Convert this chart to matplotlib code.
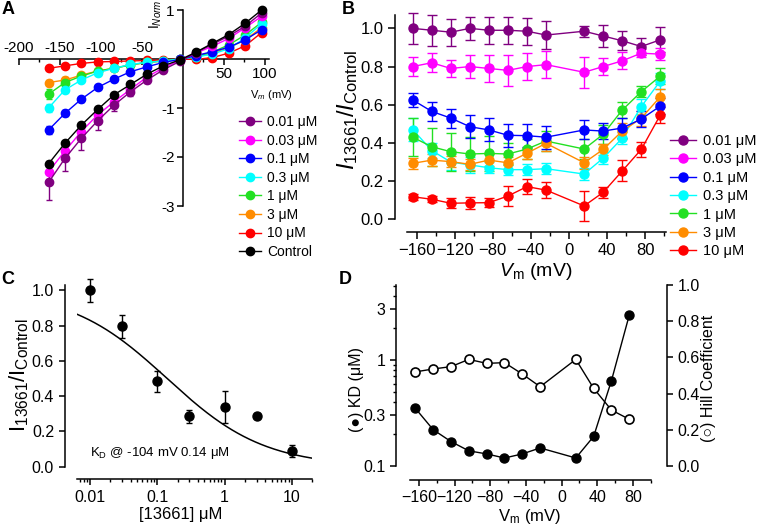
import numpy as np
import matplotlib
matplotlib.use("Agg")
import matplotlib.pyplot as plt
from matplotlib.lines import Line2D
from matplotlib.ticker import FixedLocator, NullFormatter, LogLocator, MultipleLocator, FormatStrFormatter

plt.rcParams['font.family'] = ['Liberation Sans', 'DejaVu Sans']
plt.rcParams['mathtext.fontset'] = 'custom'
plt.rcParams['mathtext.rm'] = 'Liberation Sans'
plt.rcParams['mathtext.it'] = 'Liberation Sans:italic'
plt.rcParams['mathtext.bf'] = 'Liberation Sans:bold'
plt.rcParams['axes.linewidth'] = 1.1
plt.rcParams['xtick.major.width'] = 1.1
plt.rcParams['ytick.major.width'] = 1.1
plt.rcParams['xtick.minor.width'] = 1.0
plt.rcParams['ytick.minor.width'] = 1.0

# ---------------- data ----------------
conc_labels = ["0.01 \u03bcM", "0.03 \u03bcM", "0.1 \u03bcM", "0.3 \u03bcM", "1 \u03bcM", "3 \u03bcM", "10 \u03bcM"]
colors = ["#800080", "#ff00ff", "#0000ff", "#00ffff", "#22e022", "#ff8c00", "#ff0000"]

# Panel A: normalized I-V
vA = [-164, -144, -124, -104, -84, -64, -44, -24, -4, 16, 36, 56, 76, 96]
iA_001 = [-2.52, -2.03, -1.62, -1.26, -0.94, -0.67, -0.43, -0.22, -0.05, 0.13, 0.30, 0.47, 0.67, 0.94]
iA_003 = [-2.30, -1.88, -1.48, -1.14, -0.87, -0.62, -0.37, -0.18, -0.03, 0.12, 0.26, 0.42, 0.64, 0.87]
iA_01 = [-1.45, -1.11, -0.82, -0.58, -0.41, -0.26, -0.16, -0.07, -0.01, 0.07, 0.15, 0.24, 0.39, 0.60]
iA_03 = [-1.00, -0.63, -0.43, -0.28, -0.19, -0.11, -0.07, -0.04, 0.00, 0.04, 0.10, 0.21, 0.43, 0.72]
iA_1 = [-0.72, -0.48, -0.35, -0.245, -0.19, -0.12, -0.07, -0.04, 0.00, 0.05, 0.14, 0.29, 0.49, 0.75]
iA_3 = [-0.48, -0.43, -0.33, -0.245, -0.19, -0.12, -0.07, -0.04, 0.00, 0.04, 0.12, 0.23, 0.39, 0.64]
iA_10 = [-0.19, -0.14, -0.09, -0.06, -0.05, -0.04, -0.03, -0.02, 0.00, -0.01, 0.03, 0.12, 0.27, 0.54]
iA_ctl = [-2.14, -1.72, -1.35, -1.03, -0.73, -0.52, -0.31, -0.14, -0.02, 0.14, 0.32, 0.50, 0.73, 1.00]
eA_001 = [0.36, 0.26, 0.24, 0.18, 0.13, 0.08, 0.05, 0.03, 0.01, 0.02, 0.03, 0.04, 0.05, 0.06]
eA_003 = [0.15, 0.15, 0.12, 0.10, 0.08, 0.05, 0.04, 0.02, 0.01, 0.02, 0.02, 0.03, 0.04, 0.05]
eA_01 = [0.08, 0.06, 0.05, 0.04, 0.03, 0.02, 0.02, 0.01, 0.01, 0.01, 0.02, 0.02, 0.03, 0.04]
eA_03 = [0.08, 0.05, 0.04, 0.03, 0.02, 0.02, 0.01, 0.01, 0.01, 0.01, 0.01, 0.02, 0.03, 0.04]
eA_1 = [0.10, 0.06, 0.04, 0.03, 0.02, 0.02, 0.01, 0.01, 0.01, 0.01, 0.01, 0.02, 0.03, 0.04]
eA_3 = [0.05, 0.06, 0.04, 0.03, 0.02, 0.02, 0.01, 0.01, 0.01, 0.01, 0.01, 0.02, 0.03, 0.04]
eA_10 = [0.04, 0.03, 0.02, 0.02, 0.01, 0.01, 0.01, 0.01, 0.01, 0.01, 0.01, 0.02, 0.02, 0.03]
eA_ctl = [0.05, 0.05, 0.04, 0.03, 0.02, 0.02, 0.01, 0.01, 0.01, 0.01, 0.02, 0.02, 0.03, 0.03]

# Panel B: I13661 / Icontrol
vB = [-164, -144, -124, -104, -84, -64, -44, -24, 16, 36, 56, 76, 96]
rB_001 = [1.00, 0.99, 0.98, 1.00, 0.99, 0.99, 0.985, 0.965, 0.985, 0.96, 0.935, 0.905, 0.94]
rB_003 = [0.80, 0.82, 0.79, 0.80, 0.79, 0.78, 0.80, 0.81, 0.77, 0.80, 0.83, 0.87, 0.865]
rB_01 = [0.625, 0.565, 0.53, 0.485, 0.468, 0.44, 0.438, 0.43, 0.468, 0.462, 0.478, 0.525, 0.593]
rB_03 = [0.47, 0.36, 0.30, 0.285, 0.27, 0.26, 0.26, 0.265, 0.237, 0.32, 0.425, 0.59, 0.724]
rB_1 = [0.43, 0.38, 0.354, 0.342, 0.345, 0.342, 0.368, 0.41, 0.368, 0.445, 0.572, 0.668, 0.75]
rB_3 = [0.293, 0.31, 0.302, 0.288, 0.31, 0.296, 0.346, 0.398, 0.296, 0.366, 0.462, 0.529, 0.642]
rB_10 = [0.118, 0.105, 0.084, 0.086, 0.087, 0.122, 0.171, 0.153, 0.07, 0.141, 0.253, 0.366, 0.546]
eB_001 = [0.08, 0.08, 0.07, 0.06, 0.07, 0.07, 0.07, 0.075, 0.03, 0.06, 0.05, 0.045, 0.065]
eB_003 = [0.05, 0.05, 0.045, 0.06, 0.07, 0.08, 0.07, 0.07, 0.08, 0.045, 0.045, 0.02, 0.03]
eB_01 = [0.035, 0.05, 0.05, 0.06, 0.06, 0.06, 0.06, 0.06, 0.05, 0.04, 0.05, 0.04, 0.04]
eB_03 = [0.06, 0.04, 0.04, 0.04, 0.03, 0.03, 0.03, 0.03, 0.03, 0.03, 0.03, 0.04, 0.04]
eB_1 = [0.10, 0.10, 0.10, 0.09, 0.09, 0.06, 0.05, 0.05, 0.05, 0.05, 0.04, 0.03, 0.04]
eB_3 = [0.03, 0.03, 0.03, 0.03, 0.03, 0.03, 0.03, 0.04, 0.03, 0.03, 0.04, 0.04, 0.04]
eB_10 = [0.015, 0.015, 0.025, 0.03, 0.025, 0.05, 0.04, 0.04, 0.08, 0.03, 0.055, 0.04, 0.04]

# Panel C: concentration-response at -104 mV
concC = [0.01, 0.03, 0.1, 0.3, 1, 3, 10]
rC = [1.00, 0.795, 0.485, 0.285, 0.34, 0.29, 0.09]
eC = [0.065, 0.065, 0.06, 0.035, 0.09, 0.015, 0.035]
KD_fit = 0.14      # uM, Hill fit
nH_fit = 0.6

# Panel D: KD and Hill coefficient vs voltage
vD = [-164, -144, -124, -104, -84, -64, -44, -24, 16, 36, 56, 76]
kdD = [0.35, 0.22, 0.17, 0.139, 0.13, 0.119, 0.13, 0.148, 0.119, 0.19, 0.64, 2.66]
hillD = [0.52, 0.536, 0.549, 0.589, 0.567, 0.571, 0.508, 0.438, 0.589, 0.429, 0.309, 0.258]

W, H = 759, 527
fig = plt.figure(figsize=(W / 100, H / 100), dpi=100)


def ax_px(l, t, r, b):
    return fig.add_axes([l / W, 1 - b / H, (r - l) / W, (b - t) / H])

TFS = 11

# ---------------- Panel A ----------------
axA = ax_px(19, 10, 269, 206)
seriesA = [iA_001, iA_003, iA_01, iA_03, iA_1, iA_3, iA_10, iA_ctl]
errA = [eA_001, eA_003, eA_01, eA_03, eA_1, eA_3, eA_10, eA_ctl]
colsA = colors + ["#000000"]
labsA = conc_labels + ["Control"]
for k in [6, 5, 4, 3, 2, 1, 0, 7]:
    axA.errorbar(vA, seriesA[k], yerr=errA[k], color=colsA[k], marker='o', ms=6,
                 lw=1.0, elinewidth=1.0, capsize=2.5, capthick=1.0, clip_on=False, zorder=3)
axA.set_xlim(-200, 105)
axA.set_ylim(-3, 1)
axA.spines['left'].set_position(('data', 0))
axA.spines['bottom'].set_position(('data', 0))
axA.spines['top'].set_visible(False)
axA.spines['right'].set_visible(False)
axA.set_xticks([-200, -150, -100, -50, 50, 100])
axA.set_xticklabels([])
axA.xaxis.set_minor_locator(MultipleLocator(25))
axA.set_yticks([1, -1, -2, -3])
axA.set_yticklabels(["1", "-1", "-2", "-3"], fontsize=TFS)
axA.tick_params(axis='x', which='major', direction='out', length=4)
axA.tick_params(axis='x', which='minor', direction='out', length=2)
axA.tick_params(axis='y', direction='out', length=4, pad=2)
for v in [-200, -150, -100, -50]:
    axA.annotate(str(v), xy=(v, 0), xytext=(0, 3), textcoords='offset points',
                 ha='center', va='bottom', fontsize=TFS)
for v in [50, 100]:
    axA.annotate(str(v), xy=(v, 0), xytext=(0, -6), textcoords='offset points',
                 ha='center', va='top', fontsize=TFS)
fig.text(156 / W, 1 - 14 / H, r"I$_{\mathit{Norm}}$", rotation=90, fontsize=10,
         ha='center', va='center')
fig.text(250 / W, 1 - 95 / H, r"V$_{\mathit{m}}$ (mV)", fontsize=8, ha='left', va='center')
handlesA = [Line2D([], [], color=colsA[k], marker='o', ms=6, lw=1.0) for k in range(8)]
fig.legend(handlesA, labsA, loc='upper left', bbox_to_anchor=(239 / W, 1 - 115 / H),
           frameon=False, fontsize=10, handlelength=1.6, handletextpad=0.45,
           labelspacing=0.33, borderpad=0, borderaxespad=0)

# ---------------- Panel B ----------------
axB = ax_px(407, 15, 666, 219.3)
seriesB = [rB_001, rB_003, rB_01, rB_03, rB_1, rB_3, rB_10]
errB = [eB_001, eB_003, eB_01, eB_03, eB_1, eB_3, eB_10]
for k in [0, 1, 3, 4, 5, 2, 6]:
    axB.errorbar(vB, seriesB[k], yerr=errB[k], color=colors[k], marker='o', ms=6.5,
                 lw=1.0, elinewidth=1.0, capsize=3.5, capthick=1.0, clip_on=False, zorder=3)
axB.set_xlim(-170, 102)
axB.set_ylim(0, 1.07)
for s in ['top', 'right']:
    axB.spines[s].set_visible(False)
axB.spines['left'].set_position(('outward', 9))
axB.spines['bottom'].set_position(('outward', 9))
axB.set_xticks([-160, -120, -80, -40, 0, 40, 80])
axB.xaxis.set_minor_locator(MultipleLocator(20))
axB.set_yticks([0, 0.2, 0.4, 0.6, 0.8, 1.0])
axB.yaxis.set_major_formatter(FormatStrFormatter('%.1f'))
axB.tick_params(which='major', direction='out', length=5, labelsize=TFS + 1, pad=3)
axB.tick_params(which='minor', direction='out', length=3)
fig.text(348 / W, 1 - 110 / H, r"$\mathit{I}_{\mathrm{13661}}/\mathit{I}_{\mathrm{Control}}$",
         rotation=90, fontsize=17, ha='center', va='center')
fig.text(536 / W, 1 - 272 / H, r"$\mathit{V}_{\mathrm{m}}$ (mV)", fontsize=14,
         ha='center', va='center')
handlesB = [Line2D([], [], color=colors[k], marker='o', ms=6.5, lw=1.0) for k in range(7)]
fig.legend(handlesB, conc_labels, loc='upper left', bbox_to_anchor=(670 / W, 1 - 134 / H),
           frameon=False, fontsize=10.5, handlelength=1.8, handletextpad=0.45,
           labelspacing=0.3, borderpad=0, borderaxespad=0)

# ---------------- Panel C ----------------
axC = ax_px(77, 285, 312, 466.7)
axC.errorbar(concC, rC, yerr=eC, color='black', marker='o', ms=6.5, lw=0,
             elinewidth=1.0, capsize=2.5, capthick=1.0, clip_on=False, zorder=3)
xfit = np.logspace(np.log10(0.0064), np.log10(20), 200)
axC.plot(xfit, 1.0 / (1.0 + (xfit / KD_fit) ** nH_fit), color='black', lw=1.1)
axC.set_xscale('log')
axC.set_xlim(0.0064, 20)
axC.set_ylim(0, 1.03)
for s in ['top', 'right']:
    axC.spines[s].set_visible(False)
axC.spines['left'].set_position(('outward', 9))
axC.spines['bottom'].set_position(('outward', 9))
axC.xaxis.set_major_locator(FixedLocator([0.01, 0.1, 1, 10]))
axC.set_xticklabels(["0.01", "0.1", "1", "10"])
axC.xaxis.set_minor_locator(LogLocator(base=10, subs=np.arange(2, 10)))
axC.xaxis.set_minor_formatter(NullFormatter())
axC.set_yticks([0, 0.2, 0.4, 0.6, 0.8, 1.0])
axC.yaxis.set_major_formatter(FormatStrFormatter('%.1f'))
axC.tick_params(which='major', direction='out', length=4, labelsize=TFS + 0.5)
axC.tick_params(which='minor', direction='out', length=2)
axC.text(0.01, 0.035, r"K$_{\mathrm{D}}$ @ -104 mV 0.14 $\mathrm{\mu}$M", fontsize=9.5,
         ha='left', va='bottom', transform=axC.transData)
fig.text(19 / W, 1 - 375 / H, r"I$_{\mathrm{13661}}$/I$_{\mathrm{Control}}$", rotation=90,
         fontsize=16, ha='center', va='center')
fig.text(181 / W, 1 - 514 / H, "[13661] \u03bcM", fontsize=12, ha='center', va='center')

# ---------------- Panel D ----------------
axD = ax_px(410, 285, 650.7, 466)
axD.plot(vD, kdD, color='black', marker='o', ms=6.5, lw=1.0, clip_on=False, zorder=3)
axD.set_yscale('log')
axD.set_ylim(0.1, 5.1)
axD.set_xlim(-170, 100)
axD2 = axD.twinx()
axD2.plot(vD, hillD, color='black', marker='o', ms=6.5, mfc='white', mew=1.2, lw=1.0,
          clip_on=False, zorder=3)
axD2.set_ylim(0, 1.0)
for s in ['top', 'right']:
    axD.spines[s].set_visible(False)
for s in ['top', 'left', 'bottom']:
    axD2.spines[s].set_visible(False)
axD.spines['left'].set_position(('outward', 10))
axD.spines['bottom'].set_position(('outward', 10))
axD2.spines['right'].set_position(('outward', 12))
axD.yaxis.set_major_locator(FixedLocator([0.1, 0.3, 1, 3]))
axD.set_yticklabels(["0.1", "0.3", "1", "3"])
axD.yaxis.set_minor_locator(LogLocator(base=10, subs=np.arange(2, 10)))
axD.yaxis.set_minor_formatter(NullFormatter())
axD.set_xticks([-160, -120, -80, -40, 0, 40, 80])
axD.xaxis.set_minor_locator(MultipleLocator(20))
axD2.set_yticks([0, 0.2, 0.4, 0.6, 0.8, 1.0])
axD2.yaxis.set_major_formatter(FormatStrFormatter('%.1f'))
for a in (axD, axD2):
    a.tick_params(which='major', direction='out', length=4, labelsize=TFS + 0.5)
    a.tick_params(which='minor', direction='out', length=2)
fig.text(357 / W, 1 - 390 / H, "(\u25cf) KD (\u03bcM)", rotation=90, fontsize=11.5,
         ha='center', va='center')
fig.text(709 / W, 1 - 378 / H, "(\u25cb) Hill Coefficient", rotation=90, fontsize=11.5,
         ha='center', va='center')
fig.text(530 / W, 1 - 516 / H, r"V$_{\mathrm{m}}$ (mV)", fontsize=12, ha='center', va='center')

# panel letters
for lab, x, y in [("A", 8, 10), ("B", 348, 10), ("C", 8, 279), ("D", 345, 279)]:
    fig.text(x / W, 1 - y / H, lab, fontsize=13, fontweight='bold', ha='center', va='center')

fig.savefig("out.png", dpi=100)
